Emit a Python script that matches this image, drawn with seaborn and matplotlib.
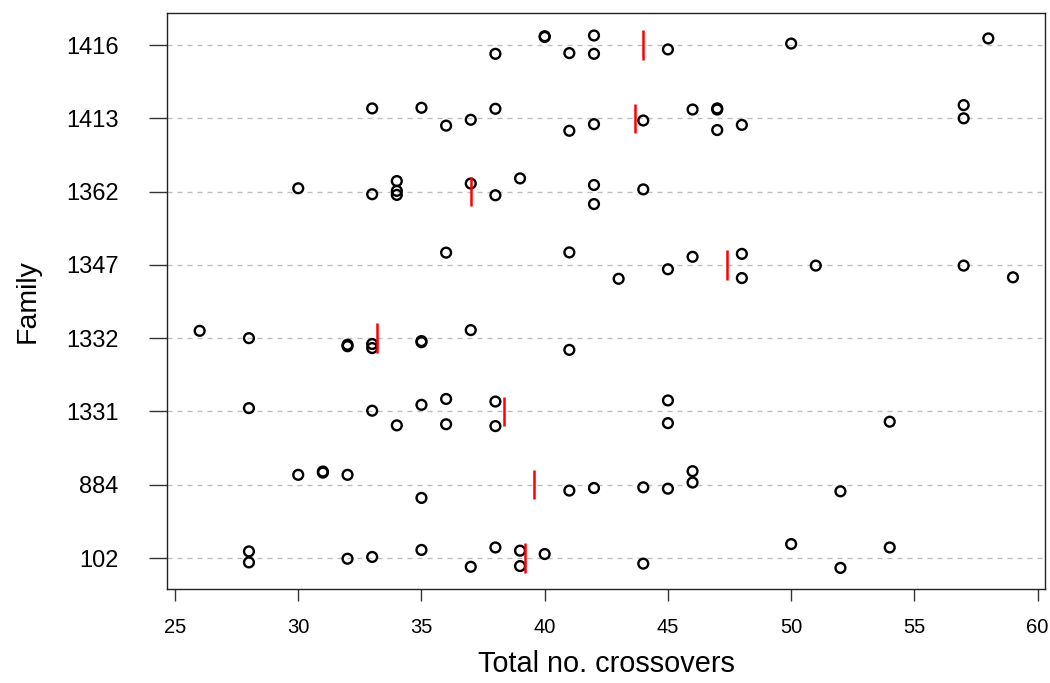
import matplotlib
matplotlib.use("Agg")
import matplotlib.pyplot as plt
import seaborn as sns
import pandas as pd
import numpy as np

families = ["102", "884", "1331", "1332", "1347", "1362", "1413", "1416"]

f102 = [28, 28, 32, 33, 35, 37, 38, 39, 39, 40, 44, 50, 52, 54]
j102 = [0.09, -0.06, -0.01, 0.014, 0.11, -0.12, 0.144, 0.10, -0.11, 0.054, -0.077, 0.19, -0.135, 0.144]
f884 = [30, 31, 31, 32, 35, 41, 42, 44, 45, 46, 46, 52]
j884 = [0.135, 0.18, 0.165, 0.135, -0.18, -0.08, -0.045, -0.036, -0.054, 0.185, 0.03, -0.09]
f1331 = [28, 33, 34, 35, 36, 36, 38, 38, 45, 45, 54]
j1331 = [0.045, 0.01, -0.19, 0.09, 0.17, -0.175, 0.135, -0.2, 0.15, -0.16, -0.14]
f1332 = [26, 28, 32, 32, 33, 33, 35, 35, 37, 41]
j1332 = [0.10, 0.0, -0.09, -0.11, -0.08, -0.135, -0.04, -0.055, 0.11, -0.16]
f1347 = [36, 41, 43, 45, 46, 48, 48, 51, 57, 59]
j1347 = [0.167, 0.17, -0.19, -0.06, 0.11, 0.15, -0.18, -0.01, -0.01, -0.17]
f1362 = [30, 33, 34, 34, 34, 37, 38, 39, 42, 42, 44]
j1362 = [0.045, -0.036, 0.144, 0.01, -0.045, 0.11, -0.05, 0.18, 0.09, -0.17, 0.03]
f1413 = [33, 35, 36, 37, 38, 41, 42, 44, 46, 47, 47, 47, 48, 57, 57]
j1413 = [0.135, 0.144, -0.10, -0.02, 0.13, -0.17, -0.08, -0.03, 0.12, 0.12, 0.135, -0.16, -0.09, 0.18, 0.0]
f1416 = [38, 40, 40, 41, 42, 42, 45, 50, 58]
j1416 = [-0.12, 0.12, 0.11, -0.11, 0.13, -0.12, -0.06, 0.02, 0.09]

values = [f102, f884, f1331, f1332, f1347, f1362, f1413, f1416]
jitters = [j102, j884, j1331, j1332, j1347, j1362, j1413, j1416]

xticks = [25, 30, 35, 40, 45, 50, 55, 60]

rows = []
for i, (fam, vals, jit) in enumerate(zip(families, values, jitters)):
    for v, j in zip(vals, jit):
        rows.append({"family": fam, "pos": i + 1, "crossovers": v, "y": i + 1 + j})
df = pd.DataFrame(rows)

sns.set_theme(style="white")
plt.rcParams["font.family"] = ["Liberation Sans", "DejaVu Sans"]
plt.rcParams["text.color"] = "black"
plt.rcParams["axes.labelcolor"] = "black"
plt.rcParams["xtick.color"] = "black"
plt.rcParams["ytick.color"] = "black"

fig = plt.figure(figsize=(10.5, 6.83), dpi=100)
ax = fig.add_axes([167 / 1050, 1 - 589 / 683, (1045 - 167) / 1050, (589 - 13) / 683])

# dashed guide lines
for i in range(len(families)):
    ax.axhline(i + 1, color="#bdbdbd", lw=1.0, ls=(0, (3.6, 3.6)), zorder=0)

sns.scatterplot(data=df, x="crossovers", y="y", ax=ax, s=50,
                facecolor="none", edgecolor="black", linewidth=1.7,
                legend=False, zorder=3)

means = df.groupby("pos")["crossovers"].mean()
ax.vlines(means.values, means.index - 0.2, means.index + 0.2, color="red", lw=1.8, zorder=4)

ax.set_xlim(24.675, 60.30)
ax.set_ylim(0.577, 8.437)
ax.set_xticks(xticks)
ax.set_xticklabels([str(t) for t in xticks], fontsize=14.5)
ax.set_yticks(range(1, len(families) + 1))
ax.set_yticklabels(families, fontsize=17)
ax.tick_params(axis="x", direction="out", length=8.6, width=1, color="#333333",
               labelcolor="black", bottom=True, pad=12)
ax.tick_params(axis="y", direction="out", length=13, width=1, color="#333333",
               labelcolor="black", left=True, pad=22)
for sp in ax.spines.values():
    sp.set_visible(True)
    sp.set_color("#222222")
    sp.set_linewidth(1.0)

ax.set_xlabel("Total no. crossovers", fontsize=20.8, labelpad=10, color="black")
ax.set_ylabel("Family", fontsize=20.5, labelpad=18, color="black")

fig.savefig("out.png", dpi=100)
